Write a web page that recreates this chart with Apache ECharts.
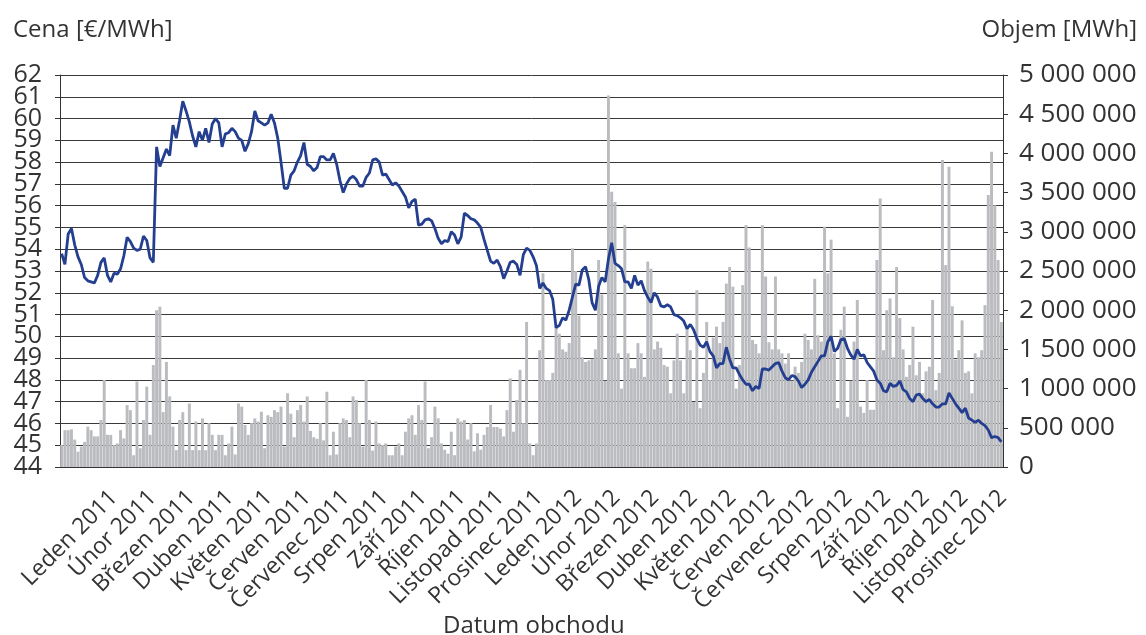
<!DOCTYPE html>
<html style="height: 100%">
<head>
<meta charset="utf-8">
</head>
<body style="height: 100%; margin: 0; background: #fff">
<div id="container" style="width: 1146px; height: 635px"></div>
<script type="text/javascript" src="https://cdn.jsdelivr.net/npm/echarts@6/dist/echarts.min.js"></script>
<script type="text/javascript">
// měsíce na ose x
var months = ['Leden 2011', 'Únor 2011', 'Březen 2011', 'Duben 2011', 'Květen 2011', 'Červen 2011',
	'Červenec 2011', 'Srpen 2011', 'Září 2011', 'Říjen 2011', 'Listopad 2011', 'Prosinec 2011',
	'Leden 2012', 'Únor 2012', 'Březen 2012', 'Duben 2012', 'Květen 2012', 'Červen 2012',
	'Červenec 2012', 'Srpen 2012', 'Září 2012', 'Říjen 2012', 'Listopad 2012', 'Prosinec 2012'];

// cena [€/MWh], 12 vzorků na měsíc
var price2011 = [53.8, 53.3, 54.7, 54.95, 54.2, 53.65, 53.3, 52.7, 52.55, 52.5, 52.45, 52.8,
	53.4, 53.6, 52.8, 52.5, 52.9, 52.85, 53.1, 53.7, 54.55, 54.35, 54.05, 53.95,
	54.0, 54.6, 54.4, 53.6, 53.4, 58.7, 57.8, 58.2, 58.6, 58.3, 59.7, 59.1,
	59.9, 60.8, 60.35, 59.85, 59.2, 58.7, 59.4, 59.0, 59.55, 58.9, 59.75, 60.0,
	59.8, 58.7, 59.3, 59.35, 59.55, 59.4, 59.1, 59.0, 58.5, 58.85, 59.4, 60.35,
	59.9, 59.8, 59.7, 59.8, 60.2, 59.8, 59.1, 58.0, 56.8, 56.8, 57.4, 57.6,
	58.0, 58.3, 58.9, 57.9, 57.8, 57.6, 57.75, 58.25, 58.25, 58.1, 58.1, 58.4,
	57.9, 57.15, 56.6, 57.0, 57.25, 57.35, 57.2, 56.9, 56.9, 57.3, 57.5, 58.1,
	58.15, 58.0, 57.4, 57.45, 57.2, 56.95, 57.05, 56.9, 56.65, 56.4, 55.9, 56.2,
	56.3, 55.1, 55.15, 55.35, 55.4, 55.3, 54.95, 54.5, 54.25, 54.4, 54.35, 54.8,
	54.65, 54.25, 54.55, 55.65, 55.55, 55.4, 55.35, 55.2, 55.0, 54.45, 53.95, 53.45,
	53.35, 53.5, 53.2, 52.65, 53.0, 53.4, 53.45, 53.3, 52.8, 53.75, 54.05, 53.95];
var price2012 = [53.65, 53.25, 52.2, 52.45, 52.2, 52.1, 51.7, 50.4, 50.5, 50.85, 50.75, 51.2,
	51.8, 52.4, 52.35, 53.05, 53.2, 52.6, 51.55, 51.2, 52.3, 52.7, 52.5, 53.55,
	54.3, 53.35, 53.25, 53.1, 52.5, 52.5, 52.2, 52.8, 52.35, 52.55, 52.1, 51.8,
	51.55, 52.0, 51.8, 51.4, 51.35, 51.45, 51.35, 51.0, 50.95, 50.85, 50.7, 50.35,
	50.55, 50.3, 49.9, 49.6, 49.5, 49.75, 49.3, 49.1, 48.55, 48.75, 48.75, 49.5,
	48.95, 48.55, 48.55, 48.25, 48.0, 47.8, 47.8, 47.5, 47.7, 47.6, 48.5, 48.5,
	48.45, 48.6, 48.75, 48.8, 48.4, 48.1, 48.0, 48.2, 48.15, 47.95, 47.65, 47.8,
	48.0, 48.35, 48.6, 48.85, 49.1, 49.1, 49.75, 50.0, 49.3, 49.45, 49.85, 49.9,
	49.45, 49.15, 48.95, 49.4, 49.1, 49.15, 48.8, 48.6, 48.4, 48.0, 47.85, 47.5,
	47.45, 47.85, 47.7, 47.75, 47.95, 47.55, 47.45, 47.15, 47.0, 47.3, 47.35, 47.15,
	47.0, 47.1, 46.9, 46.75, 46.75, 46.9, 46.9, 47.4, 47.15, 46.9, 46.7, 46.5,
	46.7, 46.25, 46.15, 46.05, 46.15, 46.0, 45.9, 45.7, 45.35, 45.4, 45.35, 45.15];

// objem [tis. MWh]
var volume2011 = [280, 470, 470, 480, 350, 195, 260, 320, 515, 470, 390, 390,
	600, 1110, 410, 410, 280, 300, 470, 365, 790, 725, 150, 1090,
	240, 600, 1025, 410, 1300, 2000, 2045, 700, 1340, 900, 515, 215,
	600, 700, 215, 810, 215, 580, 215, 620, 215, 560, 410, 215,
	410, 410, 150, 300, 515, 160, 810, 770, 535, 410, 560, 620,
	580, 705, 240, 660, 640, 725, 700, 770, 260, 940, 680, 380,
	725, 790, 580, 900, 460, 380, 360, 560, 340, 960, 150, 450,
	160, 560, 620, 600, 380, 900, 855, 560, 260, 1110, 600, 210,
	580, 300, 280, 300, 150, 150, 260, 300, 150, 450, 620, 660,
	410, 790, 600, 1090, 240, 380, 770, 620, 300, 220, 170, 450,
	150, 620, 580, 600, 350, 560, 200, 430, 220, 410, 510, 790,
	510, 510, 490, 390, 725, 1130, 450, 855, 1240, 560, 1850, 300];
var volume2012 = [150, 300, 1490, 2470, 1110, 1110, 1200, 1790, 1700, 1500, 1470, 1580,
	2790, 2500, 1930, 1400, 1340, 1360, 1380, 1500, 2640, 2200, 1100, 4740,
	3510, 3380, 1450, 1000, 3085, 1450, 1260, 1260, 1580, 1450, 1150, 2620,
	2530, 1500, 1600, 1520, 1300, 1280, 940, 1360, 1700, 1360, 940, 1790,
	1490, 830, 2255, 750, 1200, 1850, 1110, 1650, 1790, 1580, 1850, 2340,
	2550, 2300, 1000, 1300, 2320, 3085, 2800, 1620, 1570, 1450, 3085, 2430,
	1590, 1500, 2430, 1500, 1450, 1320, 1450, 1100, 1280, 1200, 1340, 1700,
	1620, 1500, 2400, 1680, 1600, 3065, 2470, 2900, 1450, 750, 1750, 2045,
	640, 1100, 1600, 2130, 770, 690, 1110, 730, 730, 2640, 3425, 1490,
	2000, 2150, 1400, 2550, 1900, 1500, 1150, 1300, 1790, 1170, 1340, 940,
	1220, 1280, 2130, 980, 1200, 3915, 2575, 3830, 2050, 1370, 1490, 1870,
	1200, 1220, 940, 1450, 1400, 1490, 2065, 3470, 4020, 3340, 2640, 1850];

var dom = document.getElementById('container');
var myChart = echarts.init(dom);

var price = price2011.concat(price2012);
var volume = volume2011.concat(volume2012);
var days = price.map(function (v, i) { return i; });

var txt = '#333333';
var font = 'Open Sans';
var titleStyle = { fontSize: 24, fontWeight: 'normal', color: txt, fontFamily: font };

// popisky ceny: sudé na jedné ose, liché na druhé (jinak se navzájem skrývají)
function priceAxis(even, main) {
	return {
		type: 'value',
		position: 'left',
		offset: 0,
		min: 44,
		max: 62,
		interval: 1,
		axisLine: { show: main, lineStyle: { color: '#333' } },
		axisTick: { show: main, length: 5, lineStyle: { color: '#333' } },
		axisLabel: {
			fontSize: 25, color: txt, margin: 18,
			formatter: function (v) { return (v % 2 === 0) === even ? String(v) : ''; }
		},
		splitLine: { show: main, lineStyle: { color: '#3a3a3a', width: 1 } }
	};
}

var option = {
	backgroundColor: '#ffffff',
	animation: false,
	textStyle: { fontFamily: font },
	title: [
		{ text: 'Cena [€/MWh]', left: 8, top: 13, textStyle: titleStyle },
		{ text: 'Objem [MWh]', right: 4, top: 13, textStyle: titleStyle },
		{ text: 'Datum obchodu', left: 438, top: 609, textStyle: titleStyle }
	],
	grid: [
		{ left: 60, right: 143, top: 75, bottom: 168 },
		// jen pro popisky měsíců
		{ left: 114, right: 143, top: 75, bottom: 168 }
	],
	xAxis: [
		{
			type: 'category',
			data: days,
			boundaryGap: true,
			axisLine: { lineStyle: { color: '#333', width: 1 } },
			axisTick: { show: false },
			axisLabel: { show: false },
			splitLine: { show: false }
		},
		{
			type: 'category',
			gridIndex: 1,
			data: months,
			boundaryGap: false,
			axisLine: { show: false },
			axisTick: { show: false },
			axisLabel: { interval: 0, rotate: 45, fontSize: 23, color: txt, margin: 27 },
			splitLine: { show: false }
		}
	],
	yAxis: [
		priceAxis(true, true),
		{
			type: 'value',
			position: 'right',
			min: 0,
			max: 5000,
			interval: 500,
			axisLine: { show: true, lineStyle: { color: '#333' } },
			axisTick: { show: true, length: 5, lineStyle: { color: '#333' } },
			axisLabel: {
				fontSize: 26, color: txt, margin: 16,
				formatter: function (v) {
					return v === 0 ? '0' : String(v * 1000).replace(/\B(?=(\d{3})+(?!\d))/g, ' ');
				}
			},
			splitLine: { show: false }
		},
		{ type: 'value', gridIndex: 1, show: false },
		priceAxis(false, false)
	],
	series: [
		{
			name: 'Objem',
			type: 'bar',
			yAxisIndex: 1,
			data: volume,
			barCategoryGap: '10%',
			itemStyle: { color: '#bbbcc0' },
			z: 1
		},
		{
			name: 'Cena',
			type: 'line',
			yAxisIndex: 0,
			data: price,
			symbol: 'none',
			lineStyle: { color: '#243f8f', width: 2.8 },
			z: 3
		}
	]
};
myChart.setOption(option, true);
</script>
</body>
</html>
